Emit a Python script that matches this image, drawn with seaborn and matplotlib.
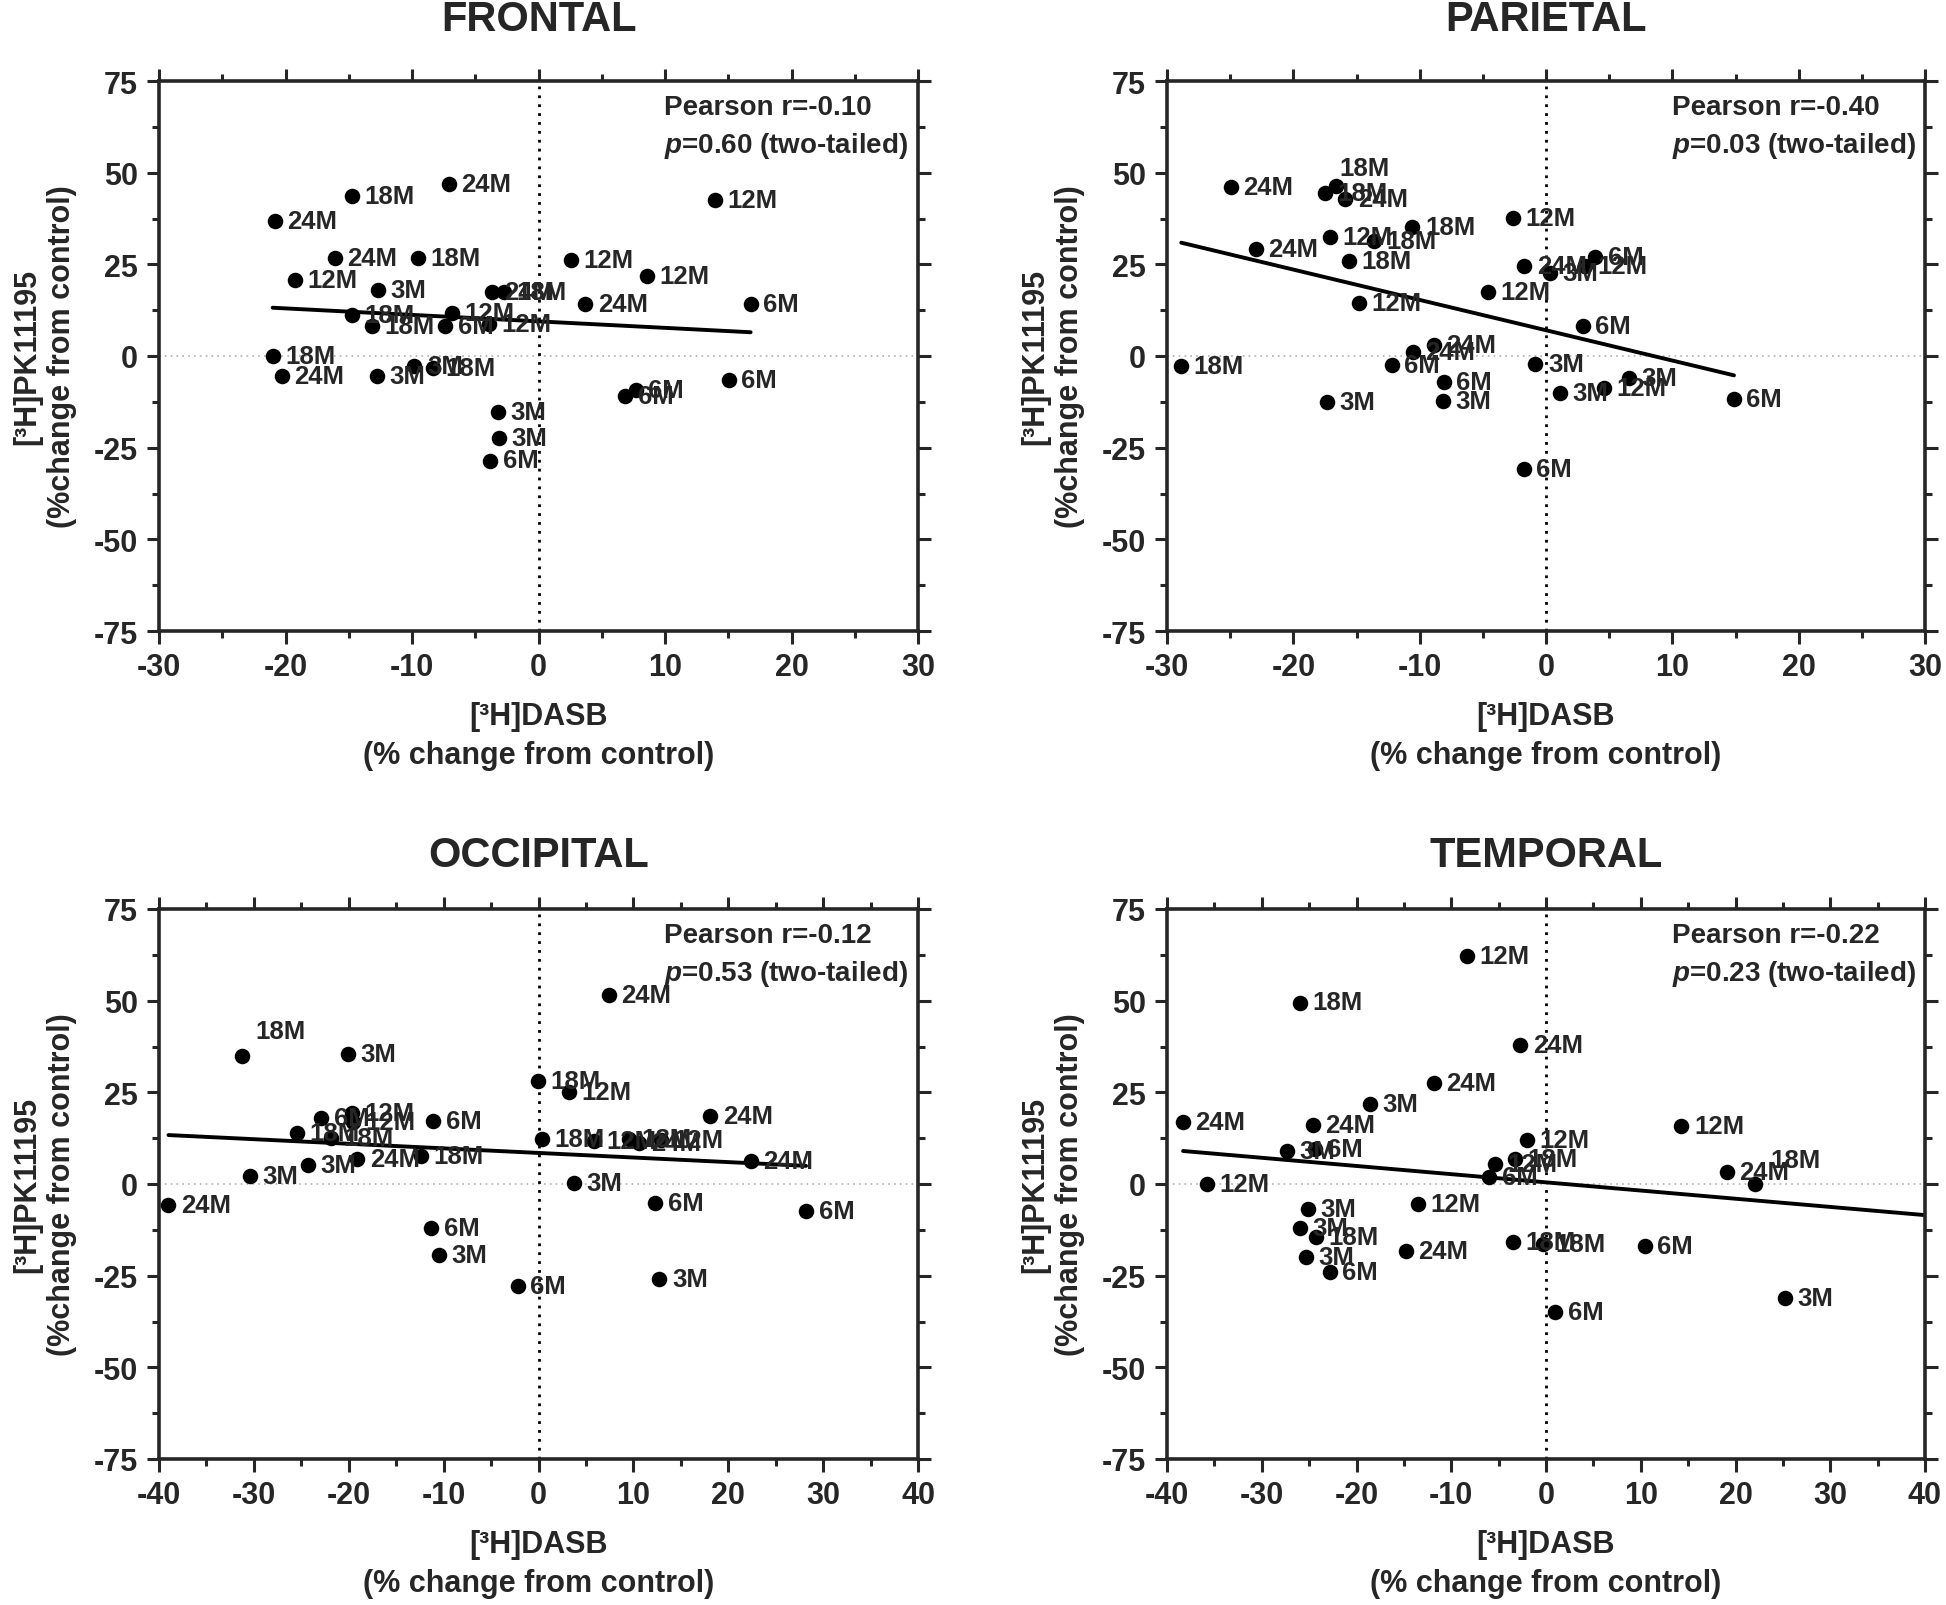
import numpy as np
import pandas as pd
import seaborn as sns
import matplotlib.pyplot as plt
from matplotlib.ticker import MultipleLocator

sns.set_style("ticks")
plt.rcParams['font.family'] = ['Liberation Sans', 'DejaVu Sans']
plt.rcParams['font.weight'] = 'bold'
plt.rcParams['axes.unicode_minus'] = False
plt.rcParams['mathtext.fontset'] = 'custom'
plt.rcParams['mathtext.it'] = 'Liberation Sans:italic:bold'
plt.rcParams['mathtext.rm'] = 'Liberation Sans:bold'

# ---- data ----
frontal_x = [-7.07, -14.74, -20.86, 13.94, -16.09, -9.50, 2.54, 8.54, -19.27, -12.71,
             -3.69, -2.74, 3.69, 16.77, -14.78, -6.87, -13.15, -7.39, -3.89, -21.02,
             -20.30, -12.79, -9.81, -8.34, 6.87, 7.67, 15.02, -3.18, -3.14, -3.81]
frontal_y = [46.8, 43.7, 36.8, 42.6, 26.8, 26.8, 26.1, 21.8, 20.8, 18.1,
             17.5, 17.5, 14.3, 14.3, 11.2, 11.8, 8.1, 8.1, 8.6, -0.1,
             -5.5, -5.5, -2.7, -3.2, -10.9, -9.4, -6.6, -15.3, -22.3, -28.5]
frontal_age = ["24M", "18M", "24M", "12M", "24M", "18M", "12M", "12M", "12M", "3M",
               "24M", "18M", "24M", "6M", "18M", "12M", "18M", "6M", "12M", "18M",
               "24M", "3M", "3M", "18M", "6M", "6M", "6M", "3M", "3M", "6M"]

parietal_x = [-24.93, -16.61, -17.53, -15.88, -2.65, -10.57, -17.13, -13.59, -22.96, -15.60,
              -1.73, 3.90, 0.28, 3.10, -4.62, -14.84, 2.90, -8.89, -10.53, -28.87,
              -12.22, -0.84, -8.08, 6.59, 4.58, 1.09, -17.33, -8.16, 14.88, -1.77]
parietal_y = [46.2, 46.4, 44.5, 42.7, 37.7, 35.3, 32.5, 31.4, 29.3, 25.9,
              24.5, 27.0, 22.7, 24.5, 17.5, 14.4, 8.2, 2.9, 1.2, -2.7,
              -2.5, -2.3, -7.0, -6.1, -8.8, -10.2, -12.5, -12.3, -11.8, -30.9]
parietal_age = ["24M", "18M", "18M", "24M", "12M", "18M", "12M", "18M", "24M", "18M",
                "24M", "6M", "3M", "12M", "12M", "12M", "6M", "24M", "24M", "18M",
                "6M", "3M", "6M", "3M", "12M", "3M", "3M", "3M", "6M", "6M"]

occipital_x = [7.4, -31.3, -20.1, -0.1, 3.2, -22.9, -19.65, -19.6, -11.1, 18.1,
               -25.45, -21.9, 0.4, 5.8, 9.5, 10.6, 12.9, 22.4, -19.1, -12.4,
               -24.3, -30.4, 3.7, -39.0, 12.3, 28.2, -11.3, -10.5, -2.2, 12.75]
occipital_y = [51.5, 34.8, 35.4, 28.2, 25.0, 18.1, 19.3, 16.8, 17.2, 18.6,
               14.0, 12.6, 12.2, 11.7, 12.2, 11.3, 12.0, 6.2, 6.7, 7.6,
               5.3, 2.2, 0.4, -5.7, -5.1, -7.4, -12.1, -19.4, -27.9, -25.8]
occipital_age = ["24M", "18M", "3M", "18M", "12M", "6M", "12M", "12M", "6M", "24M",
                 "18M", "18M", "18M", "12M", "18M", "24M", "12M", "24M", "24M", "18M",
                 "3M", "3M", "3M", "24M", "6M", "6M", "6M", "3M", "6M", "3M"]

temporal_x = [-8.3, -26.0, -2.7, -11.85, -18.55, -38.3, -24.6, 14.3, -2.0, -27.3,
              -24.4, -3.3, -5.4, -6.0, 19.1, 22.1, -35.8, -13.5, -25.1, -26.0,
              -24.3, -25.3, -22.8, -14.8, -3.5, -0.3, 10.4, 25.2, 1.0]
temporal_y = [62.3, 49.5, 37.8, 27.6, 21.8, 16.8, 16.0, 15.7, 12.0, 8.9,
              9.6, 6.9, 5.5, 2.0, 3.4, 0.0, 0.0, -5.4, -6.8, -12.1,
              -14.5, -19.9, -24.0, -18.3, -15.8, -16.3, -17.0, -31.1, -35.0]
temporal_age = ["12M", "18M", "24M", "24M", "3M", "24M", "24M", "12M", "12M", "3M",
                "6M", "18M", "12M", "6M", "24M", "18M", "12M", "12M", "3M", "3M",
                "18M", "3M", "6M", "24M", "18M", "18M", "6M", "3M", "6M"]

titles = ["FRONTAL", "PARIETAL", "OCCIPITAL", "TEMPORAL"]
pearson_r = ["-0.10", "-0.40", "-0.12", "-0.22"]
p_values = ["0.60", "0.03", "0.53", "0.23"]
x_limits = [(-30, 30), (-30, 30), (-40, 40), (-40, 40)]

# ---- layout ----
fig = plt.figure(figsize=(19.46, 16.06), dpi=100)
W, H = 1946, 1606
boxes = [(159, 82, 918, 632), (1167, 82, 1925, 632),
         (159, 910, 918, 1460), (1167, 910, 1925, 1460)]
title_y = [1.112, 1.112, 1.098, 1.098]
line_end = [None, None, None, 40]  # temporal line runs to right edge
special_offsets = {(1, 1): (2, 13), (2, 1): (10, 18), (3, 15): (11, 17)}

datasets = [(frontal_x, frontal_y, frontal_age),
            (parietal_x, parietal_y, parietal_age),
            (occipital_x, occipital_y, occipital_age),
            (temporal_x, temporal_y, temporal_age)]

for i, (xs, ys, ages) in enumerate(datasets):
    l, t, r, b = boxes[i]
    ax = fig.add_axes([l / W, 1 - b / H, (r - l) / W, (b - t) / H])
    df = pd.DataFrame({"DASB": xs, "PK": ys, "age": ages})

    ax.axhline(0, color="#b0b0b0", lw=1.2, ls=(0, (1, 2.5)), zorder=1)
    ax.axvline(0, color="black", lw=2, ls=(0, (1, 2.2)), zorder=1)

    sns.scatterplot(data=df, x="DASB", y="PK", ax=ax, color="black", s=125,
                    linewidth=0, zorder=3, legend=False)

    slope, icpt = np.polyfit(df["DASB"], df["PK"], 1)
    x0 = df["DASB"].min()
    x1 = df["DASB"].max() if line_end[i] is None else line_end[i]
    ax.plot([x0, x1], [slope * x0 + icpt, slope * x1 + icpt], color="black",
            lw=2.8, zorder=2)

    for j, row in df.iterrows():
        off = special_offsets.get((i, j), (9, 0))
        ax.annotate(row["age"], (row["DASB"], row["PK"]), xytext=off,
                    textcoords="offset points", ha="left", va="center",
                    fontsize=18.5, fontweight="bold", zorder=4)

    ax.set_xlim(*x_limits[i])
    ax.set_ylim(-75, 75)
    ax.xaxis.set_major_locator(MultipleLocator(10))
    ax.xaxis.set_minor_locator(MultipleLocator(5))
    ax.yaxis.set_major_locator(MultipleLocator(25))
    ax.yaxis.set_minor_locator(MultipleLocator(12.5))
    ax.tick_params(which="both", direction="out", top=True, right=True,
                   width=2.2, labelsize=22, pad=6)
    ax.tick_params(which="major", length=9)
    ax.tick_params(which="minor", length=5)
    for s in ax.spines.values():
        s.set_linewidth(2.6)
        s.set_visible(True)
    ax.set_xlabel("")
    ax.set_ylabel("")

    ax.text(0.5, title_y[i], titles[i], transform=ax.transAxes, ha="center",
            va="center", fontsize=30, fontweight="bold")
    ax.text(0.666, 0.953, f"Pearson r={pearson_r[i]}", transform=ax.transAxes,
            ha="left", va="center", fontsize=20, fontweight="bold")
    ax.text(0.666, 0.883, r"$\mathit{p}$" + f"={p_values[i]} (two-tailed)",
            transform=ax.transAxes, ha="left", va="center", fontsize=20,
            fontweight="bold")

    ax.text(0.5, -0.155, "[³H]DASB", transform=ax.transAxes, ha="center",
            va="center", fontsize=22, fontweight="bold")
    ax.text(0.5, -0.225, "(% change from control)", transform=ax.transAxes,
            ha="center", va="center", fontsize=22, fontweight="bold")
    ax.text(-0.174, 0.5, "[³H]PK11195", transform=ax.transAxes, ha="center",
            va="center", rotation=90, fontsize=22, fontweight="bold")
    ax.text(-0.128, 0.5, "(%change from control)", transform=ax.transAxes,
            ha="center", va="center", rotation=90, fontsize=22, fontweight="bold")

fig.savefig("out.png", dpi=100)
